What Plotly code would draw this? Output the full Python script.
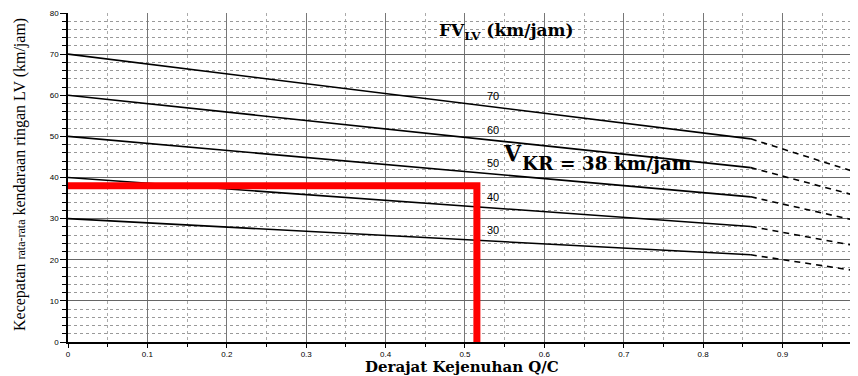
import plotly.graph_objects as go

# Data
fv_labels = [70, 60, 50, 40, 30]          # free-flow speed FV_LV (km/jam)
qc_knee = 0.86                             # end of solid part
qc_end = 1.0                               # end of dashed part
v_at_knee = [49.4, 42.4, 35.3, 28.1, 21.2]
v_at_end = [40.8, 35.2, 29.2, 23.1, 17.1]
label_x = 0.535
label_y = [59.8, 51.6, 43.5, 35.3, 27.2]
vkr = 38
qc_val = 0.515

fig = go.Figure()

for fv, vk, ve in zip(fv_labels, v_at_knee, v_at_end):
    fig.add_trace(go.Scatter(x=[0, qc_knee], y=[fv, vk], mode="lines",
                             line=dict(color="black", width=1.6), showlegend=False, hoverinfo="skip"))
    fig.add_trace(go.Scatter(x=[qc_knee, qc_end], y=[vk, ve], mode="lines",
                             line=dict(color="black", width=1.6, dash="6px,5px"), showlegend=False, hoverinfo="skip"))

# red reading lines
fig.add_trace(go.Scatter(x=[-0.004, qc_val, qc_val], y=[vkr, vkr, 0], mode="lines",
                         line=dict(color="#ff0000", width=7), showlegend=False, hoverinfo="skip",
                         cliponaxis=False))

annotations = []
for fv, ly in zip(fv_labels, label_y):
    annotations.append(dict(x=label_x, y=ly, text=str(fv), showarrow=False, xanchor="center",
                            yanchor="middle", font=dict(family="Arial", size=11, color="black")))

serif = "DejaVu Serif"
annotations.append(dict(x=0.545, y=46.0, xanchor="left", yanchor="middle", showarrow=False,
                        text="<b>V</b>", font=dict(family=serif, size=22, color="black")))
annotations.append(dict(x=0.569, y=43.3, xanchor="left", yanchor="middle", showarrow=False,
                        text="<b>KR = 38 km/jam</b>", font=dict(family=serif, size=18.5, color="black")))
annotations.append(dict(x=0.465, y=75.6, xanchor="left", yanchor="middle", showarrow=False,
                        text="<b>FV<sub>LV</sub> (km/jam)</b>",
                        font=dict(family=serif, size=17, color="black")))

# axis titles as paper annotations
annotations.append(dict(xref="paper", yref="paper", x=0.499, y=-0.043, xanchor="center", yanchor="top",
                        showarrow=False, text="<b>Derajat Kejenuhan Q/C</b>",
                        font=dict(family=serif, size=15, color="black")))
annotations.append(dict(xref="paper", yref="paper", x=-0.061, y=0.51, xanchor="center", yanchor="middle",
                        textangle=-90, showarrow=False,
                        text="Kecepatan <span style='font-size:12px'>rata-rata</span> kendaraan ringan LV (km/jam)",
                        font=dict(family="Liberation Serif", size=16, color="black")))

fig.update_layout(
    width=850, height=368,
    margin=dict(l=60, r=0, t=5, b=34, autoexpand=False),
    paper_bgcolor="white", plot_bgcolor="white",
    annotations=annotations,
    xaxis=dict(range=[0, 0.995], dtick=0.1, tick0=0, showgrid=True, gridcolor="#777", gridwidth=1,
               tickformat="~g", ticks="outside", ticklen=4, tickcolor="black", automargin=False,
               showline=True, linecolor="black", linewidth=1.5, zeroline=False,
               tickfont=dict(family="Arial Black, Arial", size=8, color="black"),
               minor=dict(dtick=0.05, showgrid=True, gridcolor="#aaa", griddash="dot",
                          ticks="outside", ticklen=3, tickcolor="black")),
    yaxis=dict(range=[0, 80], dtick=10, tick0=0, showgrid=True, gridcolor="#666", gridwidth=1,
               ticks="outside", ticklen=6, tickcolor="black", automargin=False,
               showline=True, linecolor="black", linewidth=1.5, zeroline=False,
               tickfont=dict(family="Arial Black, Arial", size=8, color="black"),
               minor=dict(dtick=2, showgrid=True, gridcolor="#999", griddash="dot",
                          ticks="outside", ticklen=4, tickcolor="black")),
)

fig.write_html("out.html")
